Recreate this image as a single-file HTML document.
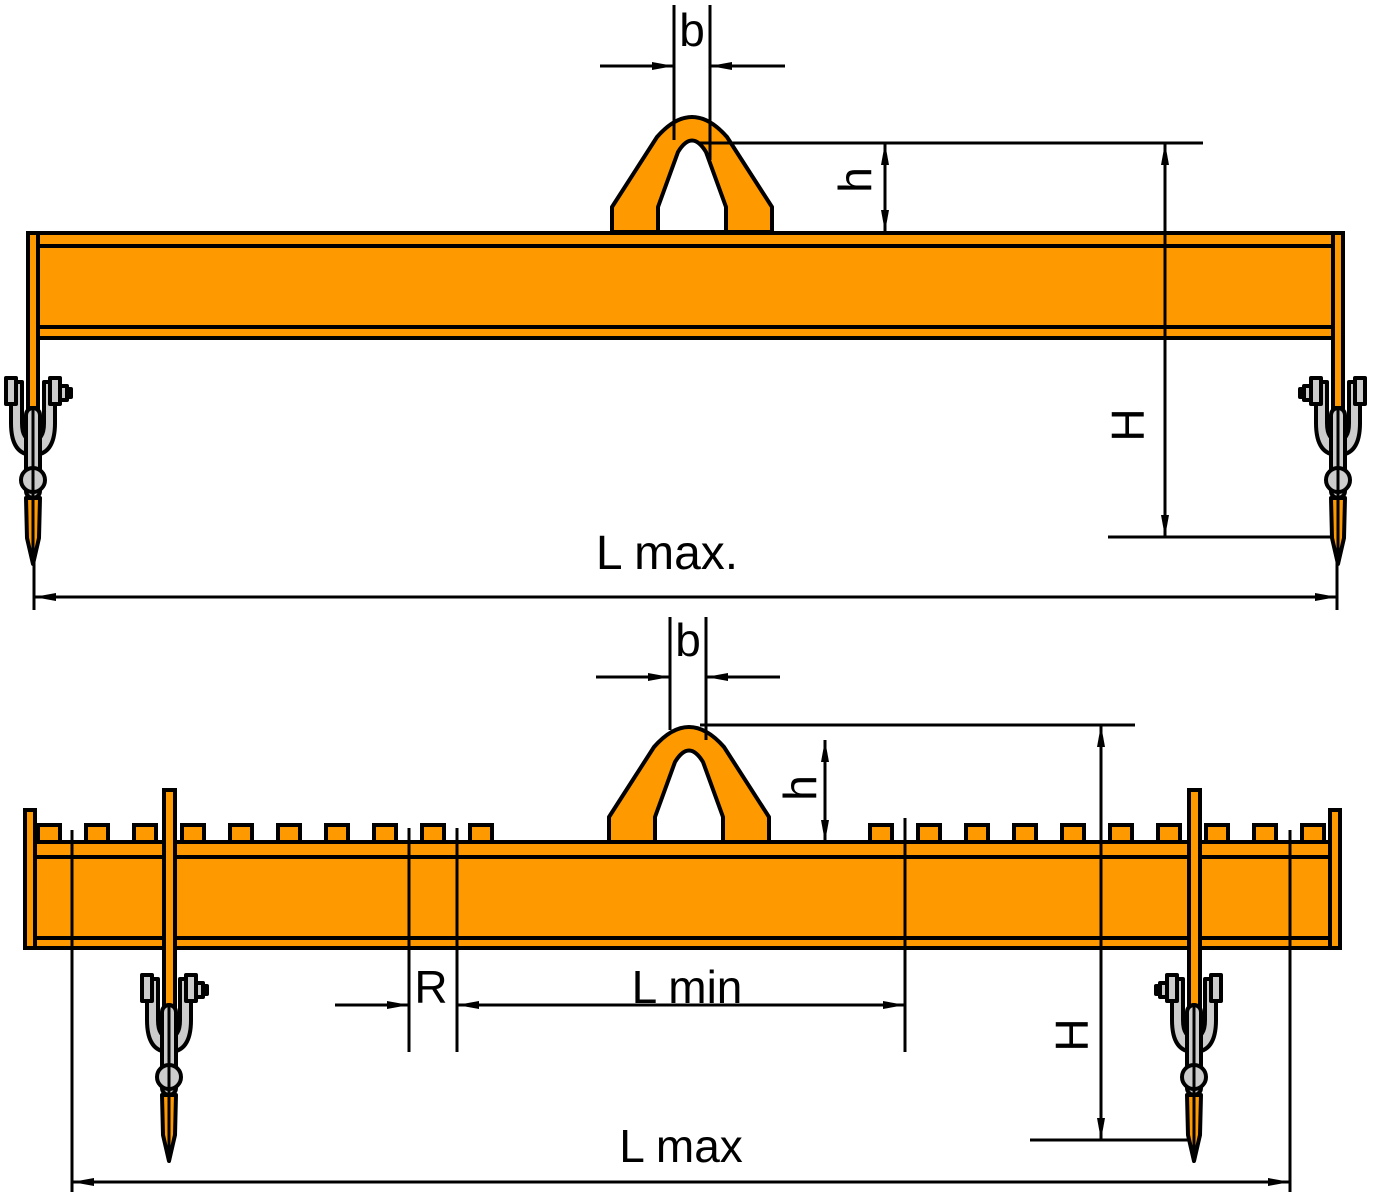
<!DOCTYPE html>
<html><head><style>body{margin:0;background:#fff}svg{display:block}text{font-family:"Liberation Sans",sans-serif;fill:#000}</style></head><body>
<svg width="1373" height="1200" viewBox="0 0 1373 1200" xmlns="http://www.w3.org/2000/svg">
<defs>
<marker id="a" viewBox="0 0 22 8" refX="22" refY="4" markerWidth="22" markerHeight="8" markerUnits="userSpaceOnUse" orient="auto-start-reverse"><path d="M0,0 L22,4 L0,8 Z" fill="#000"/></marker>
<g id="sh" stroke="#000" stroke-width="4" stroke-linejoin="round">
<path d="M-22,4 L-22,45 Q-22,77 0,77 Q22,77 22,45 L22,4 L11,4 L11,45 Q11,62 0,62 Q-11,62 -11,45 L-11,4 Z" fill="#ccc"/>
<rect x="-27" y="0" width="10" height="26" fill="#ccc"/>
<rect x="17" y="0" width="10" height="26" fill="#ccc"/>
<rect x="27" y="8" width="7" height="14" fill="#ccc"/>
<rect x="34" y="11" width="4" height="8" fill="#ccc"/>
<rect x="-7" y="30" width="14" height="90" rx="7" fill="#ccc"/>
<circle cx="0" cy="102" r="12" fill="#ccc"/>
<path d="M-7,120 L7,120 L6,160 L0,186 L-6,160 Z" fill="#f90"/>
<line x1="0" y1="28" x2="0" y2="186" stroke-width="3"/>
</g>
<g id="eye" stroke="#000" stroke-width="4" fill="#f90" stroke-linejoin="round">
<path d="M-80,0 L-80,-25 L-35,-95 Q0,-135 35,-95 L80,-25 L80,0 Z"/>
<path d="M-34,0 L-34,-25 L-14,-80 Q0,-103 14,-80 L34,-25 L34,0 Z" fill="#fff"/>
</g>
</defs>
<!-- TOP -->
<g stroke="#000" stroke-width="4">
<rect x="28" y="233" width="10" height="175" fill="#f90"/>
<rect x="1333" y="233" width="10" height="175" fill="#f90"/>
<rect x="38" y="233" width="1295" height="105" fill="#f90"/>
<line x1="38" y1="246" x2="1333" y2="246"/>
<line x1="38" y1="327" x2="1333" y2="327"/>
</g>
<use href="#eye" x="692" y="232"/>
<use href="#sh" x="33" y="378"/>
<g transform="translate(1338,378) scale(-1,1)"><use href="#sh"/></g>
<g stroke="#000" stroke-width="3" fill="none">
<line x1="674" y1="5" x2="674" y2="140"/><line x1="710" y1="5" x2="710" y2="160"/>
<line x1="600" y1="66" x2="674" y2="66" marker-end="url(#a)"/>
<line x1="785" y1="66" x2="710" y2="66" marker-end="url(#a)"/>
<line x1="700" y1="143" x2="1203" y2="143"/>
<line x1="885" y1="143" x2="885" y2="232" marker-start="url(#a)" marker-end="url(#a)"/>
<line x1="1165" y1="143" x2="1165" y2="537" marker-start="url(#a)" marker-end="url(#a)"/>
<line x1="1108" y1="537" x2="1330" y2="537"/>
<line x1="34" y1="560" x2="34" y2="610"/><line x1="1337" y1="560" x2="1337" y2="610"/>
<line x1="34" y1="597" x2="1337" y2="597" marker-start="url(#a)" marker-end="url(#a)"/>
</g>
<text x="692" y="46" font-size="46" text-anchor="middle">b</text>
<text transform="translate(871,180) rotate(-90)" font-size="46" text-anchor="middle">h</text>
<text transform="translate(1144,425) rotate(-90)" font-size="46" text-anchor="middle">H</text>
<text x="667" y="569" font-size="48" text-anchor="middle">L max.</text>
<!-- BOTTOM -->
<g stroke="#000" stroke-width="4" fill="#f90">
<rect x="38" y="825" width="22" height="17"/><rect x="86" y="825" width="22" height="17"/><rect x="134" y="825" width="22" height="17"/><rect x="182" y="825" width="22" height="17"/><rect x="230" y="825" width="22" height="17"/><rect x="278" y="825" width="22" height="17"/><rect x="326" y="825" width="22" height="17"/><rect x="374" y="825" width="22" height="17"/><rect x="422" y="825" width="22" height="17"/><rect x="470" y="825" width="22" height="17"/>
<rect x="870" y="825" width="22" height="17"/><rect x="918" y="825" width="22" height="17"/><rect x="966" y="825" width="22" height="17"/><rect x="1014" y="825" width="22" height="17"/><rect x="1062" y="825" width="22" height="17"/><rect x="1110" y="825" width="22" height="17"/><rect x="1158" y="825" width="22" height="17"/><rect x="1206" y="825" width="22" height="17"/><rect x="1254" y="825" width="22" height="17"/><rect x="1302" y="825" width="22" height="17"/>
<rect x="25" y="810" width="10" height="138"/>
<rect x="1330" y="810" width="10" height="138"/>
<rect x="35" y="842" width="1295" height="106"/>
<line x1="35" y1="857" x2="1330" y2="857"/>
<line x1="35" y1="938" x2="1330" y2="938"/>
<rect x="164" y="790" width="11" height="220"/>
<rect x="1189" y="790" width="11" height="220"/>
</g>
<use href="#eye" x="689" y="842"/>
<g transform="translate(169,975)"><use href="#sh"/></g>
<g transform="translate(1194,975) scale(-1,1)"><use href="#sh"/></g>
<g stroke="#000" stroke-width="3" fill="none">
<line x1="670" y1="617" x2="670" y2="730"/><line x1="706" y1="617" x2="706" y2="740"/>
<line x1="596" y1="677" x2="670" y2="677" marker-end="url(#a)"/>
<line x1="780" y1="677" x2="706" y2="677" marker-end="url(#a)"/>
<line x1="700" y1="725" x2="1135" y2="725"/>
<line x1="825" y1="740" x2="825" y2="842" marker-start="url(#a)" marker-end="url(#a)"/>
<line x1="1101" y1="725" x2="1101" y2="1140" marker-start="url(#a)" marker-end="url(#a)"/>
<line x1="1030" y1="1140" x2="1190" y2="1140"/>
<line x1="72" y1="830" x2="72" y2="1192"/><line x1="1290" y1="830" x2="1290" y2="1192"/>
<line x1="72" y1="1182" x2="1290" y2="1182" marker-start="url(#a)" marker-end="url(#a)"/>
<line x1="409" y1="828" x2="409" y2="1052"/><line x1="457" y1="828" x2="457" y2="1052"/>
<line x1="905" y1="818" x2="905" y2="1052"/>
<line x1="335" y1="1005" x2="409" y2="1005" marker-end="url(#a)"/>
<line x1="457" y1="1005" x2="905" y2="1005" marker-start="url(#a)" marker-end="url(#a)"/>
</g>
<text x="688" y="656" font-size="46" text-anchor="middle">b</text>
<text transform="translate(816,788) rotate(-90)" font-size="46" text-anchor="middle">h</text>
<text transform="translate(1088,1035) rotate(-90)" font-size="46" text-anchor="middle">H</text>
<text x="431" y="1003" font-size="46" text-anchor="middle">R</text>
<text x="687" y="1003" font-size="46" text-anchor="middle">L min</text>
<text x="681" y="1162" font-size="46" text-anchor="middle">L max</text>
</svg>
</body></html>
